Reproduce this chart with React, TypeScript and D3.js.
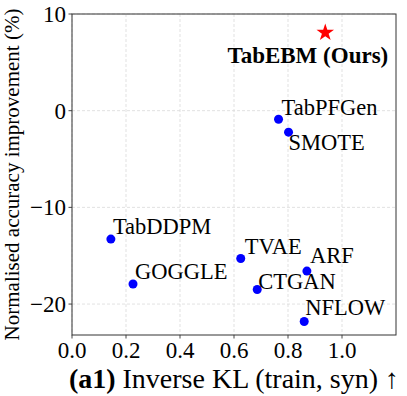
import React from "react";
import * as d3 from "d3";

// methods (baselines) and their scores
const methods = ["TabPFGen", "SMOTE", "TabDDPM", "TVAE", "ARF", "GOGGLE", "CTGAN", "NFLOW"];
const inverseKL = [0.765, 0.802, 0.144, 0.625, 0.87, 0.226, 0.686, 0.86];
const accImprovement = [-0.88, -2.22, -13.28, -15.29, -16.59, -17.93, -18.49, -21.8];

// ours
const oursLabel = "TabEBM (Ours)";
const oursKL = 0.938;
const oursAcc = 8.07;

const xTicks = [0, 0.2, 0.4, 0.6, 0.8, 1.0];
const yTicks = [-20, -10, 0, 10];

// label offsets in px (dx, dy) relative to each point
const labelOffsets = [
  [3, -4], [0, 18], [2, -5], [4, -5], [3, -8], [2, -5], [1, 0], [1, -6],
];

const width = 407;
const height = 396;
const margin = { top: 14, right: 11, bottom: 61, left: 72 };
const w = width - margin.left - margin.right;
const h = height - margin.top - margin.bottom;
const font = "Liberation Serif";

const App = () => {
  const x = d3.scaleLinear().domain([0, 1.2]).range([0, w]);
  const y = d3.scaleLinear().domain([-23.2, 10]).range([h, 0]);
  const fmtX = d3.format(".1f");
  const fmtY = (d: number) => String(d).replace("-", "\u2212");
  const star = d3.symbol(d3.symbolStar, 95)();

  return (
    <div style={{ position: "absolute", left: 0, top: 0 }}>
      <svg width={width} height={height} style={{ display: "block" }}>
        <g transform={`translate(${margin.left},${margin.top})`}>
          {/* grid */}
          {xTicks.map((t) => (
            <line key={"gx" + t} x1={x(t)} x2={x(t)} y1={0} y2={h} stroke="#d9d9d9" strokeDasharray="3,2" strokeWidth={0.8} />
          ))}
          {yTicks.map((t) => (
            <line key={"gy" + t} x1={0} x2={w} y1={y(t)} y2={y(t)} stroke="#d9d9d9" strokeDasharray="3,2" strokeWidth={0.8} />
          ))}

          {/* ticks */}
          {xTicks.map((t) => (
            <g key={"tx" + t} transform={`translate(${x(t)},${h})`}>
              <line y2={3.5} stroke="#333" strokeWidth={0.9} />
              <text y={23} textAnchor="middle" fontFamily={font} fontSize={23} fill="#000">
                {fmtX(t)}
              </text>
            </g>
          ))}
          {yTicks.map((t) => (
            <g key={"ty" + t} transform={`translate(0,${y(t)})`}>
              <line x2={-3.5} stroke="#333" strokeWidth={0.9} />
              <text x={-6} y={8} textAnchor="end" fontFamily={font} fontSize={23} fill="#000">
                {fmtY(t)}
              </text>
            </g>
          ))}

          {/* frame */}
          <rect width={w} height={h} fill="none" stroke="#333" strokeWidth={1} />

          {/* points */}
          {methods.map((m, i) => (
            <circle key={"p" + m} cx={x(inverseKL[i])} cy={y(accImprovement[i])} r={4.5} fill="#0000ff" />
          ))}
          {methods.map((m, i) => (
            <text
              key={"l" + m}
              x={x(inverseKL[i]) + labelOffsets[i][0]}
              y={y(accImprovement[i]) + labelOffsets[i][1]}
              fontFamily={font}
              fontSize={22.5}
              fill="#000"
            >
              {m}
            </text>
          ))}

          {/* ours */}
          <path d={star} transform={`translate(${x(oursKL)},${y(oursAcc)})`} fill="#ff0000" />
          <text
            x={x(oursKL) + 63}
            y={y(oursAcc) + 30}
            textAnchor="end"
            fontFamily={font}
            fontSize={23}
            fontWeight="bold"
            fill="#000"
          >
            {oursLabel}
          </text>

          {/* axis titles */}
          <text x={w / 2} y={h + 53} textAnchor="middle" fontFamily={font} fontSize={28} fill="#000">
            <tspan fontWeight="bold">(a1)</tspan>
            <tspan> Inverse KL (train, syn) {"\u2191"}</tspan>
          </text>
          <text
            transform={`translate(-53,${h / 2}) rotate(-90)`}
            textAnchor="middle"
            fontFamily={font}
            fontSize={21}
            fill="#000"
          >
            Normalised accuracy improvement (%)
          </text>
        </g>
      </svg>
    </div>
  );
};

export default App;
